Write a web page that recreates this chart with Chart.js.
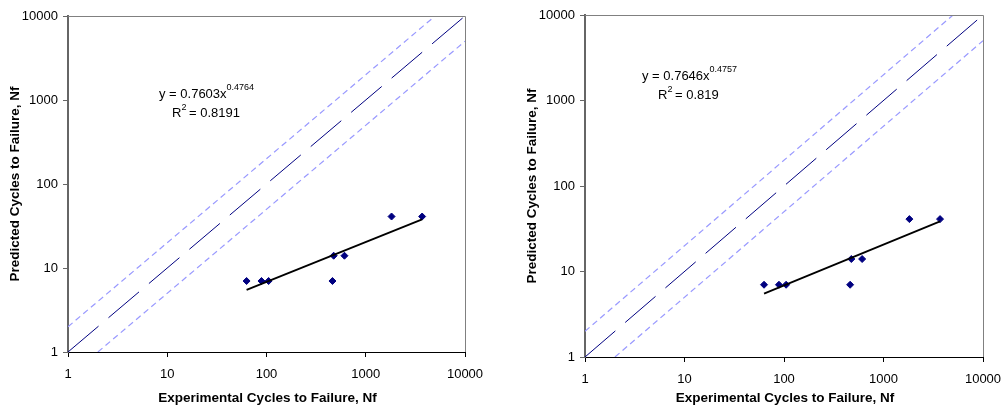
<!DOCTYPE html>
<html>
<head>
<meta charset="utf-8">
<script src="https://cdn.jsdelivr.net/npm/chart.js@4.4.1/dist/chart.umd.min.js"></script>
<style>
  html, body { margin: 0; padding: 0; background: #fff; }
  #wrap { position: relative; width: 1004px; height: 408px; }
  .box { position: absolute; top: 0; height: 408px; }
  #b1 { left: 0; width: 500px; }
  #b2 { left: 500px; width: 504px; }
</style>
</head>
<body>
<div id="wrap">
  <div class="box" id="b1"><canvas id="c1"></canvas></div>
  <div class="box" id="b2"><canvas id="c2"></canvas></div>
</div>
<script>
"use strict";

// experimental vs predicted cycles (same tests in both panels)
const EXP_NF = [63, 89, 105, 462, 475, 610, 1820, 3700];
const PRED_NF = [7, 7, 7, 7, 14, 14, 41, 41];
const DECADES = [1, 10, 100, 1000, 10000];

// reference lines
const LINE_1TO1 = [[1, 1], [10000, 10000]];
const LINE_X2 = [[1, 2], [5000, 10000]];
const LINE_HALF = [[2, 1], [10000, 5000]];

// power trendline endpoints per panel
const TREND_LEFT = [[63, 5.5], [3700, 38]];
const TREND_RIGHT = [[63, 5.5], [3700, 38.5]];

const FONT = "'Liberation Sans', Arial, sans-serif";
const NAVY = "#000080";
const LILAC = "#9999ff";

const pts = (arr) => arr.map(([x, y]) => ({ x, y }));

const frame = {
  id: "frame",
  afterDraw(chart) {
    const { ctx, chartArea: a } = chart;
    ctx.save();
    ctx.strokeStyle = "#808080";
    ctx.lineWidth = 1;
    ctx.beginPath();
    ctx.moveTo(a.left, a.top + 0.5); ctx.lineTo(a.right + 0.5, a.top + 0.5);
    ctx.lineTo(a.right + 0.5, a.bottom);
    ctx.stroke();
    ctx.restore();
  },
};

const labels = {
  id: "labels",
  afterDraw(chart, args, o) {
    const { ctx, chartArea: a } = chart;
    ctx.save();
    ctx.fillStyle = "#000";
    ctx.textBaseline = "middle";
    ctx.textAlign = "center";
    ctx.font = `bold 13.5px ${FONT}`;
    ctx.fillText("Experimental Cycles to Failure, Nf", (a.left + a.right) / 2 + 1, o.xTitleY);
    ctx.translate(o.yTitleX, (a.top + a.bottom) / 2);
    ctx.rotate(-Math.PI / 2);
    ctx.fillText("Predicted Cycles to Failure, Nf", 0, 0);
    ctx.restore();

    // equation + R²
    ctx.save();
    ctx.fillStyle = "#000";
    ctx.textBaseline = "middle";
    ctx.textAlign = "left";
    ctx.font = `13px ${FONT}`;
    const base = "y = " + o.coef + "x";
    ctx.fillText(base, o.eqX, o.eqY);
    const w = ctx.measureText(base).width;
    ctx.font = `9px ${FONT}`;
    ctx.fillText(o.power, o.eqX + w, o.eqY - 6);
    ctx.font = `13px ${FONT}`;
    ctx.fillText("R", o.r2X, o.eqY + 19);
    const wr = ctx.measureText("R").width;
    ctx.font = `9px ${FONT}`;
    ctx.fillText("2", o.r2X + wr, o.eqY + 14);
    ctx.font = `13px ${FONT}`;
    ctx.fillText(" = " + o.r2, o.r2X + wr + 4, o.eqY + 19);
    ctx.restore();
  },
};

function axis(size, color, width, pad) {
  return {
    type: "logarithmic",
    min: 1, max: 10000,
    afterBuildTicks: (ax) => { ax.ticks = DECADES.map((v) => ({ value: v })); },
    afterFit: (ax) => {
      if (ax.isHorizontal()) ax.height = size; else ax.width = size;
      // let layout padding alone decide where the plot area sits
      ax.paddingLeft = ax.paddingRight = ax.paddingTop = ax.paddingBottom = 0;
    },
    grid: { drawOnChartArea: false, drawTicks: true, tickLength: 5, color: color, tickColor: color },
    border: { color: color, width: width },
    ticks: {
      color: "#000", font: { family: FONT, size: 13 }, padding: pad,
      autoSkip: false, maxRotation: 0,
      callback: (v) => String(v),
    },
  };
}

function build(id, cfg) {
  return new Chart(document.getElementById(id), {
    type: "scatter",
    data: {
      datasets: [
        { data: pts(LINE_X2), showLine: true, borderColor: LILAC, borderWidth: 1.2, borderDash: [6, 4], pointRadius: 0 },
        { data: pts(LINE_HALF), showLine: true, borderColor: LILAC, borderWidth: 1.2, borderDash: [6, 4], pointRadius: 0 },
        { data: pts(LINE_1TO1), showLine: true, borderColor: NAVY, borderWidth: 1, borderDash: [40, 13], pointRadius: 0 },
        { data: pts(cfg.trend), showLine: true, borderColor: "#000", borderWidth: 1.8, pointRadius: 0 },
        { data: EXP_NF.map((x, i) => ({ x, y: PRED_NF[i] })), pointStyle: "rectRot",
          pointRadius: 3.5, backgroundColor: NAVY, borderColor: NAVY, borderWidth: 1 },
      ],
    },
    options: {
      responsive: true, maintainAspectRatio: false, animation: false,
      layout: { padding: cfg.pad },
      plugins: { legend: { display: false }, tooltip: { enabled: false }, labels: cfg.text },
      scales: {
        x: axis(cfg.xh, "#000", 1, 10),
        y: axis(cfg.yw, "#666", 2, 5),
      },
    },
    plugins: [frame, labels],
  });
}

build("c1", {
  trend: TREND_LEFT,
  pad: { left: 0, top: 16, right: 35, bottom: 0 },
  yw: 68, xh: 56,
  text: { coef: "0.7603", power: "0.4764", r2: "0.8191", eqX: 159, eqY: 94, r2X: 172, xTitleY: 398, yTitleX: 15 },
});
build("c2", {
  trend: TREND_RIGHT,
  pad: { left: 0, top: 15, right: 21, bottom: 0 },
  yw: 85, xh: 51,
  text: { coef: "0.7646", power: "0.4757", r2: "0.819", eqX: 142, eqY: 76, r2X: 158, xTitleY: 398, yTitleX: 32 },
});
</script>
</body>
</html>
